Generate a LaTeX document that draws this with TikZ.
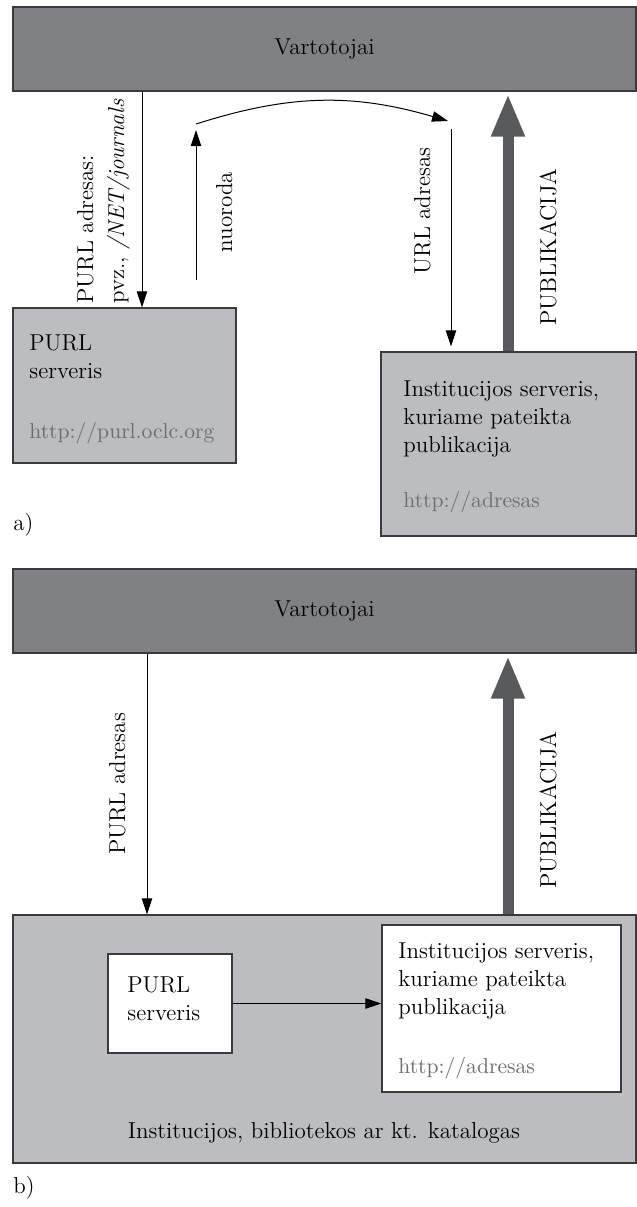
\documentclass[tikz,border=0pt]{standalone}
\usetikzlibrary{positioning,fit,arrows.meta}
\definecolor{boxline}{HTML}{3A3A3C}
\definecolor{usergray}{HTML}{808185}
\definecolor{servergray}{HTML}{BCBDC0}
\definecolor{pubgray}{HTML}{58595B}
\definecolor{urlgray}{HTML}{6D6E71}
\tikzstyle{darkbox}=[draw=boxline,fill=usergray,inner sep=0pt,line width=0.7pt]
\tikzstyle{greybox}=[draw=boxline,fill=servergray,inner sep=0pt,line width=0.7pt]
\tikzstyle{whitebox}=[draw=boxline,fill=white,inner sep=0pt,line width=0.7pt]
\tikzstyle{txt}=[inner sep=0pt,anchor=base west]
\tikzstyle{urltxt}=[txt,text=urlgray,font=\fontsize{10.8}{14}\selectfont]
\tikzstyle{vlabel}=[inner sep=0pt,rotate=90,anchor=base]
\tikzstyle{link}=[line width=0.5pt,-{Triangle[width=5.2pt,length=8pt]}]
\tikzstyle{pub}=[line width=5.5pt,draw=pubgray,-{Triangle[width=15.5pt,length=21.5pt]}]
\newcommand{\newBox}[3]{\node[#2,fit={#3}](#1){};}

\begin{document}
\begin{tikzpicture}[x=0.5pt,y=-0.5pt,
      font=\fontsize{11.5}{14}\selectfont
      ]
      \useasboundingbox (0,0) rectangle (637,1207);
      % a) PURL serveris atskirai
      \newBox{vartA}{darkbox}{(13,7) (636,91)}
      \node (vartAtxt) at (vartA.center) {Vartotojai};
      \newBox{purlA}{greybox}{(13,308) (236,463)}
      \node[txt,align=left,anchor=north west] (purlAtxt) at (29,334) {PURL\\serveris};
      \node[urltxt] (purlAurl) at (29,438) {http://purl.oclc.org};
      \newBox{instA}{greybox}{(381,352) (636,536)}
      \node[txt,align=left,anchor=north west] (instAtxt) at (403,380) {Institucijos serveris,\\kuriame pateikta\\publikacija};
      \node[urltxt] (instAurl) at (403,507) {http://adresas};

      \coordinate (pA) at (142,0);
      \coordinate (nFrom) at (196,280);
      \coordinate (nTo) at (196,130);
      \coordinate (cFrom) at (196,124);
      \coordinate (cTo) at (448,121);
      \coordinate (uTop) at (451,129);
      \coordinate (pub) at (508,0);

      \draw[link] (vartA.south -| pA) -- (purlA.north -| pA);
      \draw[link] (nFrom) -- (nTo);
      \draw[link] (cFrom) to[bend left=17] (cTo);
      \draw[link,shorten >=2.5pt] (uTop) -- (instA.north -| uTop);
      \draw[pub,shorten >=1pt] (instA.north -| pub) -- (vartA.south -| pub);

      \node[vlabel,anchor=base west] (lblA1) at (93,304) {PURL adresas:};
      \node[vlabel,anchor=base west] (lblA2) at (124,304) {pvz., \textit{/NET/journals}};
      \node[vlabel] (lblNuo) at (232,212) {nuoroda};
      \node[vlabel] (lblUrl) at (430,211) {URL adresas};
      \node[vlabel] (lblPubA) at (556,247) {PUBLIKACIJA};
      \node[txt] (capA) at (13,530) {a)};

      % b) PURL serveris kataloge
      \newBox{vartB}{darkbox}{(13,569) (636,653)}
      \node (vartBtxt) at (vartB.center) {Vartotojai};
      \newBox{katalog}{greybox}{(13,915) (636,1163)}
      \node[anchor=base] (katalogtxt) at (324,1138) {Institucijos, bibliotekos ar kt. katalogas};
      \newBox{purlB}{whitebox}{(108,954) (232,1053)}
      \node[txt,align=left,anchor=north west] (purlBtxt) at (127,976) {PURL\\serveris};
      \newBox{instB}{whitebox}{(382,925) (621,1092)}
      \node[txt,align=left,anchor=north west] (instBtxt) at (398,942) {Institucijos serveris,\\kuriame pateikta\\publikacija};
      \node[urltxt] (instBurl) at (398,1073) {http://adresas};

      \coordinate (pB) at (147,0);
      \draw[link] (vartB.south -| pB) -- (katalog.north -| pB);
      \draw[link] (purlB) -- (instB.west |- purlB);
      \draw[pub,shorten >=1pt] (katalog.north -| pub) -- (vartB.south -| pub);

      \node[vlabel] (lblB1) at (125,784) {PURL adresas};
      \node[vlabel] (lblPubB) at (556,810) {PUBLIKACIJA};
      \node[txt] (capB) at (13,1193) {b)};
    \end{tikzpicture}
\end{document}
